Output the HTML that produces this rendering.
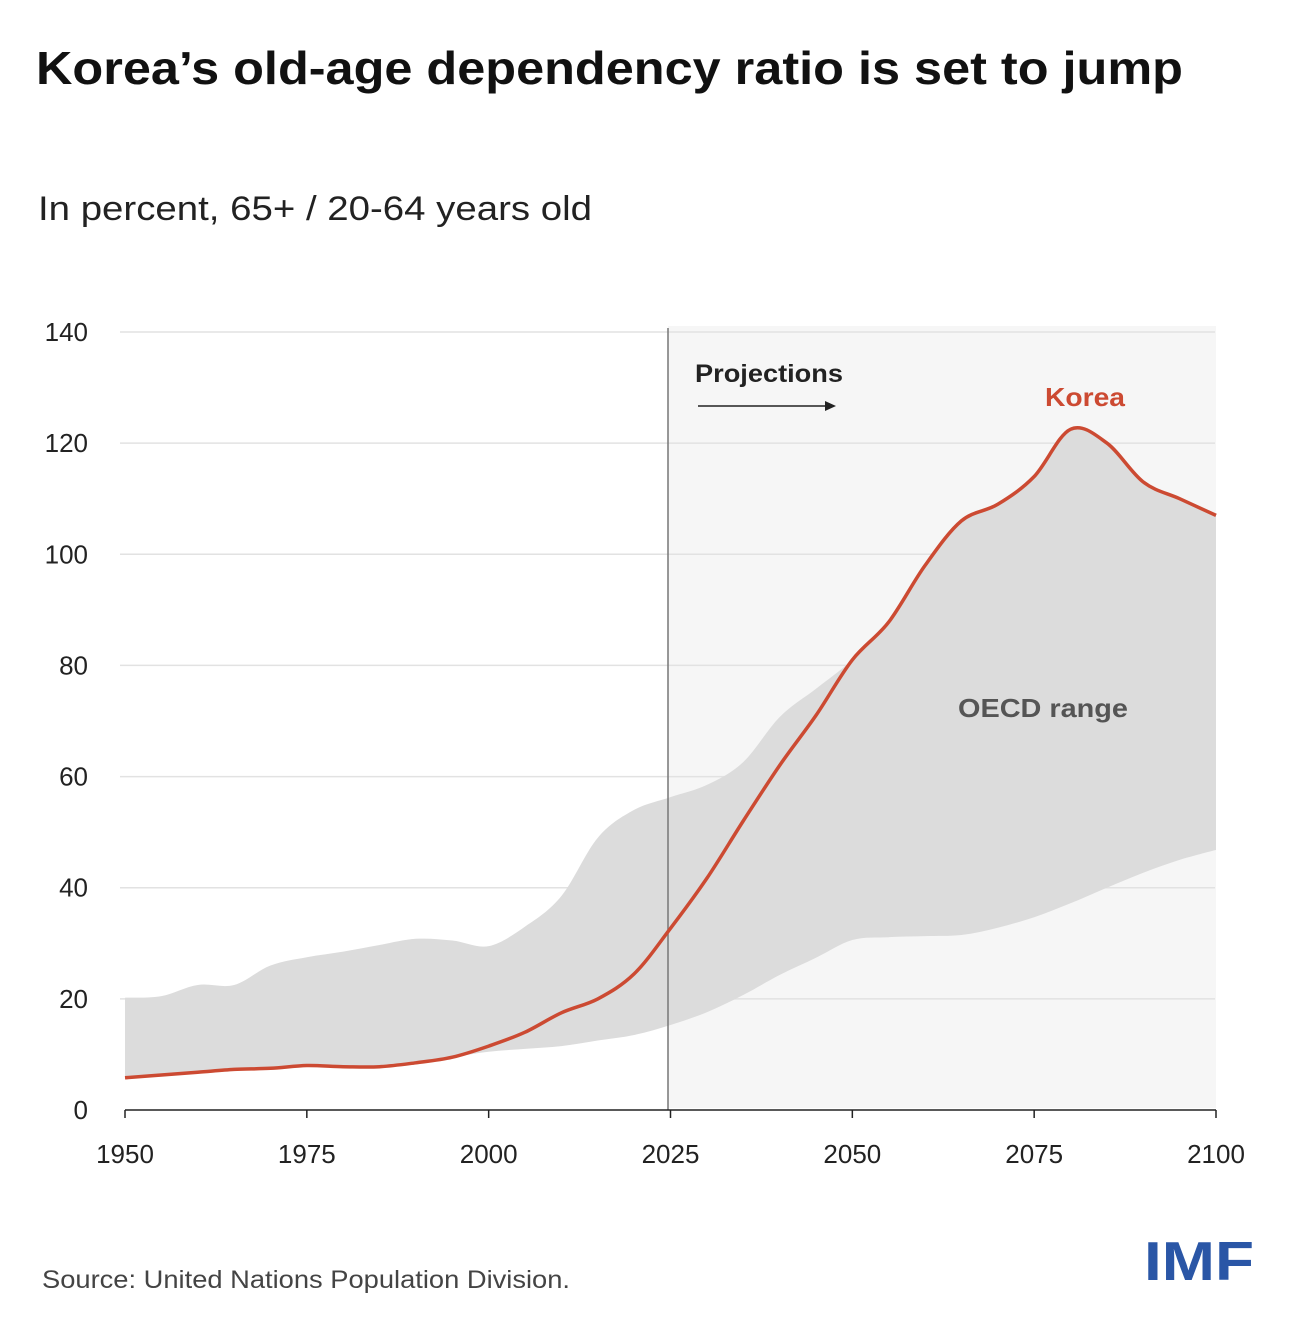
<!DOCTYPE html>
<html><head><meta charset="utf-8"><style>
body{margin:0;background:#fff;}
svg{display:block;font-family:"Liberation Sans",sans-serif;}
</style></head><body>
<svg id="chart" width="1291" height="1335" viewBox="0 0 1291 1335">
<text x="36" y="84" font-size="46" font-weight="bold" fill="#111" textLength="1147" lengthAdjust="spacingAndGlyphs">Korea’s old-age dependency ratio is set to jump</text>
<text x="38" y="220" font-size="34" fill="#222" textLength="554" lengthAdjust="spacingAndGlyphs">In percent, 65+ / 20-64 years old</text>
<rect x="668" y="326" width="548" height="782" fill="#f6f6f6"/>
<g id="grid"></g>
<path id="band" fill="#dcdcdc"/>
<line x1="668" y1="328" x2="668" y2="1110" stroke="#777" stroke-width="1.5"/>
<path id="korea" fill="none" stroke="#cc4a32" stroke-width="3.5"/>
<g id="axes"></g>
<text x="695" y="382" font-size="25" font-weight="bold" fill="#222" textLength="148" lengthAdjust="spacingAndGlyphs">Projections</text>
<line x1="698" y1="406" x2="828" y2="406" stroke="#222" stroke-width="1.5"/>
<polygon points="836,406 825,401 825,411" fill="#222"/>
<text x="1045" y="406" font-size="26" font-weight="bold" fill="#cc4a32" textLength="80" lengthAdjust="spacingAndGlyphs">Korea</text>
<text x="958" y="717" font-size="26" font-weight="bold" fill="#555" textLength="170" lengthAdjust="spacingAndGlyphs">OECD range</text>
<text x="42" y="1288" font-size="25" fill="#444" textLength="528" lengthAdjust="spacingAndGlyphs">Source: United Nations Population Division.</text>
<text x="1144" y="1280" font-size="55" font-weight="bold" fill="#2a56a6" textLength="110" lengthAdjust="spacingAndGlyphs">IMF</text>
</svg>
<script>
const years=[1950,1955,1960,1965,1970,1975,1980,1985,1990,1995,2000,2005,2010,2015,2020,2025,2030,2035,2040,2045,2050,2055,2060,2065,2070,2075,2080,2085,2090,2095,2100];
const korea=[5.8,6.3,6.8,7.3,7.5,8,7.8,7.8,8.5,9.5,11.5,14,17.5,20,24.5,32.7,41.7,52,62,71,81,87.8,98,106,109,114,122.5,120,113,110,107];
const oecdUpper=[20.2,20.5,22.5,22.5,26,27.5,28.5,29.7,30.8,30.5,29.5,33,38.5,49,54,56.3,58.5,62.6,70.7,75.8,81,87.8,98,106,109,114,122.5,120,113,110,107];
const oecdLower=[5.8,6.3,6.8,7.3,7.5,8,7.8,7.8,8.5,9.5,10.5,11,11.5,12.5,13.5,15.3,17.6,20.7,24.3,27.4,30.6,31.1,31.3,31.5,32.8,34.7,37.2,40,42.7,45,46.8];
const yTicks=[0,20,40,60,80,100,120,140];
const xTicks=[1950,1975,2000,2025,2050,2075,2100];
const X=y=>125+(y-1950)*(1216-125)/150;
const Y=v=>1110-v*(1110-332)/140;
const NS="http://www.w3.org/2000/svg";
const grid=document.getElementById('grid'),axes=document.getElementById('axes');
function el(t,a,p){const e=document.createElementNS(NS,t);for(const k in a)e.setAttribute(k,a[k]);p.appendChild(e);return e;}
function smooth(pts,start){
  let d=start?'M'+pts[0][0].toFixed(1)+','+pts[0][1].toFixed(1):'L'+pts[0][0].toFixed(1)+','+pts[0][1].toFixed(1);
  for(let i=0;i<pts.length-1;i++){
    const p0=pts[Math.max(0,i-1)],p1=pts[i],p2=pts[i+1],p3=pts[Math.min(pts.length-1,i+2)];
    const c1=[p1[0]+(p2[0]-p0[0])/6,p1[1]+(p2[1]-p0[1])/6],c2=[p2[0]-(p3[0]-p1[0])/6,p2[1]-(p3[1]-p1[1])/6];
    d+='C'+c1.map(v=>v.toFixed(1)).join(',')+' '+c2.map(v=>v.toFixed(1)).join(',')+' '+p2.map(v=>v.toFixed(1)).join(',');
  }
  return d;
}
yTicks.forEach(v=>{
  if(v>0){const l=el('line',{x1:120,x2:1215,y1:Y(v),y2:Y(v),stroke:'#e2e2e2','stroke-width':1.5},grid);
  
  }
  const t=el('text',{x:88,y:Y(v)+9,'font-size':26,'text-anchor':'end',fill:'#222'},axes);
  t.textContent=v;
  
  
});
const ax=el('line',{x1:125,x2:1216,y1:1110,y2:1110,stroke:'#222','stroke-width':1.5},axes);


xTicks.forEach(y=>{
  const tk=el('line',{x1:X(y),x2:X(y),y1:1110,y2:1118,stroke:'#222','stroke-width':1.5},axes);
  
  
  const t=el('text',{x:X(y),y:1163,'font-size':26,'text-anchor':'middle',fill:'#222'},axes);
  t.textContent=y;
  
  
});
const up=years.map((y,i)=>[X(y),Y(oecdUpper[i])]);
const lo=years.map((y,i)=>[X(y),Y(oecdLower[i])]).reverse();
document.getElementById('band').setAttribute('d',smooth(up,true)+smooth(lo,false)+'Z');
document.getElementById('korea').setAttribute('d',smooth(years.map((y,i)=>[X(y),Y(korea[i])]),true));
</script>
</body></html>
